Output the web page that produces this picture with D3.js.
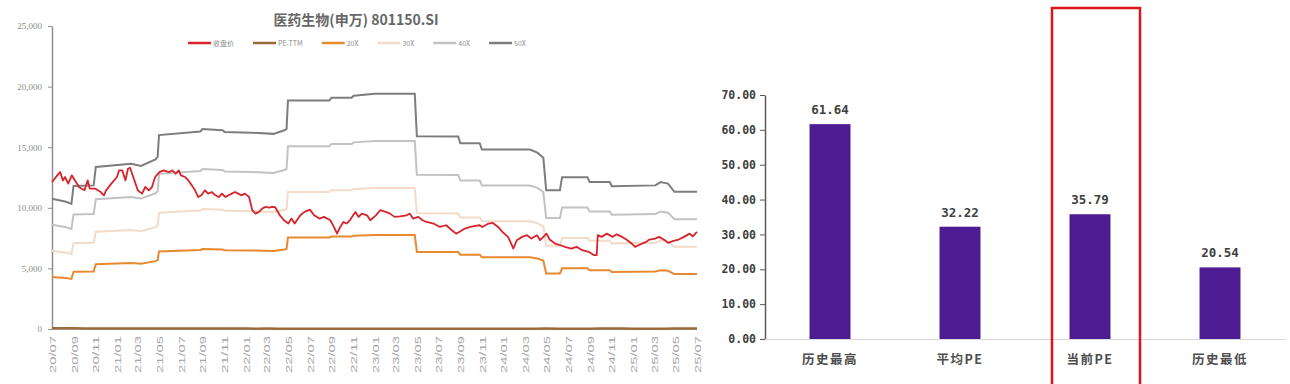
<!DOCTYPE html>
<html>
<head>
<meta charset="utf-8">
<script src="https://cdn.jsdelivr.net/npm/d3@7"></script>
<style>
  body { margin: 0; background: #fff; }
  svg { display: block; }
</style>
</head>
<body>
<svg id="chart" width="1290" height="384"></svg>
<script>
// ---- data ----
const chartTitle = "医药生物(申万) 801150.SI";
const legendNames = ["收盘价", "PE-TTM", "20X", "30X", "40X", "50X"];
const leftYTicks = [0, 5000, 10000, 15000, 20000, 25000];
const xTickLabels = ["20/07", "20/09", "20/11", "21/01", "21/03", "21/05", "21/07", "21/09", "21/11",
    "22/01", "22/03", "22/05", "22/07", "22/09", "22/11", "23/01", "23/03", "23/05", "23/07", "23/09",
    "23/11", "24/01", "24/03", "24/05", "24/07", "24/09", "24/11", "25/01", "25/03", "25/05", "25/07"];

// index close (收盘价)
const closeSeries = [
    ["2020-07-01", 12130], ["2020-07-16", 12675], ["2020-07-24", 12950], ["2020-08-01", 12260],
    ["2020-08-07", 12540], ["2020-08-16", 11990], ["2020-08-26", 12680], ["2020-09-01", 12400],
    ["2020-09-16", 11700], ["2020-10-01", 11450], ["2020-10-10", 12260], ["2020-10-16", 11580],
    ["2020-11-01", 11580], ["2020-11-16", 11300], ["2020-11-25", 11030], ["2020-12-01", 11440],
    ["2020-12-16", 11990], ["2021-01-01", 12540], ["2021-01-07", 13090], ["2021-01-16", 13090],
    ["2021-01-25", 12260], ["2021-02-01", 13220], ["2021-02-07", 13300], ["2021-02-16", 12540],
    ["2021-03-01", 11440], ["2021-03-13", 11170], ["2021-03-22", 11715], ["2021-04-01", 11440],
    ["2021-04-10", 11715], ["2021-04-19", 12540], ["2021-05-01", 12950], ["2021-05-13", 13090],
    ["2021-05-28", 12950], ["2021-06-07", 13090], ["2021-06-16", 12810], ["2021-06-25", 13090],
    ["2021-07-01", 12680], ["2021-07-13", 12540], ["2021-07-22", 12260], ["2021-08-01", 11850],
    ["2021-08-10", 11440], ["2021-08-19", 10890], ["2021-08-28", 11030], ["2021-09-07", 11440],
    ["2021-09-16", 11170], ["2021-09-26", 11300], ["2021-10-07", 11030], ["2021-10-16", 10890],
    ["2021-10-25", 11170], ["2021-11-04", 10890], ["2021-11-13", 11030], ["2021-11-22", 11170],
    ["2021-12-01", 11300], ["2021-12-10", 11170], ["2021-12-19", 11030], ["2021-12-29", 11170],
    ["2022-01-10", 10890], ["2022-01-19", 9800], ["2022-01-28", 9520], ["2022-02-07", 9660],
    ["2022-02-16", 9930], ["2022-02-25", 10070], ["2022-03-08", 10010], ["2022-03-16", 10070],
    ["2022-03-25", 10050], ["2022-04-07", 9380], ["2022-04-19", 8970], ["2022-05-01", 8700],
    ["2022-05-10", 9110], ["2022-05-19", 8700], ["2022-06-04", 9380], ["2022-06-16", 9660],
    ["2022-07-01", 9850], ["2022-07-13", 9380], ["2022-07-28", 9110], ["2022-08-10", 9250],
    ["2022-08-28", 8970], ["2022-09-07", 8420], ["2022-09-16", 7870], ["2022-09-25", 8420],
    ["2022-10-04", 8830], ["2022-10-13", 8700], ["2022-10-22", 8970], ["2022-11-07", 9660],
    ["2022-11-16", 9250], ["2022-11-25", 9520], ["2022-12-10", 9380], ["2022-12-19", 8970],
    ["2023-01-04", 9380], ["2023-01-16", 9800], ["2023-02-01", 9660], ["2023-02-13", 9520],
    ["2023-02-26", 9250], ["2023-03-13", 9300], ["2023-04-01", 9380], ["2023-04-10", 9520],
    ["2023-04-19", 9110], ["2023-05-04", 9250], ["2023-05-16", 8970], ["2023-05-28", 8830],
    ["2023-06-16", 8700], ["2023-07-04", 8420], ["2023-07-22", 8560], ["2023-08-07", 8150],
    ["2023-08-19", 7870], ["2023-08-28", 8010], ["2023-09-13", 8290], ["2023-09-28", 8420],
    ["2023-10-13", 8500], ["2023-10-25", 8560], ["2023-11-01", 8420], ["2023-11-19", 8700],
    ["2023-12-01", 8750], ["2023-12-16", 8420], ["2023-12-28", 8010], ["2024-01-13", 7600],
    ["2024-01-22", 7050], ["2024-01-28", 6640], ["2024-02-07", 7330], ["2024-02-22", 7600],
    ["2024-03-07", 7740], ["2024-03-19", 7460], ["2024-04-04", 7740], ["2024-04-13", 7330],
    ["2024-04-22", 7600], ["2024-05-01", 7870], ["2024-05-10", 7380], ["2024-05-25", 7050],
    ["2024-06-10", 6910], ["2024-06-22", 6780], ["2024-07-10", 6640], ["2024-07-25", 6780],
    ["2024-08-10", 6500], ["2024-08-28", 6370], ["2024-09-13", 6090], ["2024-09-20", 6090],
    ["2024-09-23", 7740], ["2024-10-04", 7600], ["2024-10-19", 7870], ["2024-11-04", 7600],
    ["2024-11-16", 7810], ["2024-12-01", 7600], ["2024-12-13", 7380], ["2024-12-28", 7050],
    ["2025-01-07", 6780], ["2025-01-16", 6910], ["2025-02-07", 7190], ["2025-02-16", 7380],
    ["2025-03-04", 7460], ["2025-03-16", 7600], ["2025-04-01", 7330], ["2025-04-10", 7110],
    ["2025-04-25", 7270], ["2025-05-10", 7380], ["2025-05-25", 7600], ["2025-06-10", 7870],
    ["2025-06-19", 7650], ["2025-07-01", 8010]
];

// PE-TTM, monthly (sits on the floor of this scale)
const peSeries = [
    ["2020-07-01", 57.1], ["2020-08-01", 59.2], ["2020-09-01", 52.8], ["2020-10-01", 48.5],
    ["2020-11-01", 43.3], ["2020-12-01", 42.4], ["2021-01-01", 46.4], ["2021-02-01", 48.6],
    ["2021-03-01", 42.4], ["2021-04-01", 41.6], ["2021-05-01", 40.3], ["2021-06-01", 40.5],
    ["2021-07-01", 39.0], ["2021-08-01", 36.3], ["2021-09-01", 34.6], ["2021-10-01", 33.6],
    ["2021-11-01", 33.5], ["2021-12-01", 34.8], ["2022-01-01", 33.6], ["2022-02-01", 29.9],
    ["2022-03-01", 31.3], ["2022-04-01", 28.4], ["2022-05-01", 23.1], ["2022-06-01", 24.9],
    ["2022-07-01", 26.1], ["2022-08-01", 24.5], ["2022-09-01", 22.1], ["2022-10-01", 23.1],
    ["2022-11-01", 25.1], ["2022-12-01", 24.4], ["2023-01-01", 24.2], ["2023-02-01", 24.9],
    ["2023-03-01", 24.0], ["2023-04-01", 24.2], ["2023-05-01", 29.1], ["2023-06-01", 27.4],
    ["2023-07-01", 26.5], ["2023-08-01", 25.7], ["2023-09-01", 27.0], ["2023-10-01", 28.4],
    ["2023-11-01", 28.4], ["2023-12-01", 29.6], ["2024-01-01", 25.7], ["2024-02-01", 24.8],
    ["2024-03-01", 26.1], ["2024-04-01", 27.4], ["2024-05-01", 34.4], ["2024-06-01", 27.6],
    ["2024-07-01", 26.5], ["2024-08-01", 25.9], ["2024-09-01", 25.1], ["2024-10-01", 31.3],
    ["2024-11-01", 32.3], ["2024-12-01", 32.0], ["2025-01-01", 28.8], ["2025-02-01", 30.3],
    ["2025-03-01", 30.8], ["2025-04-01", 30.5], ["2025-05-01", 32.6], ["2025-06-01", 34.7],
    ["2025-07-01", 35.8]
];

// PE band lines, values at the dates where they change
const bandDates = ["2020-07-01", "2020-08-10", "2020-08-25", "2020-08-31", "2020-10-27", "2020-11-02",
    "2021-02-10", "2021-03-10", "2021-04-20", "2021-04-26", "2021-04-30", "2021-08-25", "2021-08-31",
    "2021-10-27", "2021-11-02", "2022-01-15", "2022-03-20", "2022-04-20", "2022-04-26", "2022-04-30",
    "2022-08-25", "2022-08-31", "2022-10-27", "2022-11-02", "2023-01-01", "2023-04-24", "2023-04-30",
    "2023-08-25", "2023-08-31", "2023-10-25", "2023-10-31", "2024-03-15", "2024-04-05", "2024-04-22",
    "2024-04-30", "2024-06-08", "2024-06-14", "2024-08-25", "2024-08-31", "2024-10-27", "2024-11-02",
    "2025-03-05", "2025-03-20", "2025-04-10", "2025-04-28", "2025-07-01"];
const band20 = [4300, 4200, 4130, 4720, 4740, 5350, 5450, 5380, 5600, 5680, 6400, 6520, 6600,
    6560, 6500, 6480, 6440, 6560, 6600, 7540, 7540, 7630, 7630, 7700, 7760, 7760, 6360,
    6350, 6130, 6130, 5920, 5920, 5820, 5650, 4580, 4580, 5010, 5010, 4850, 4850, 4710,
    4740, 4850, 4800, 4530, 4530];
const band30 = [6450, 6300, 6195, 7080, 7110, 8025, 8175, 8070, 8400, 8520, 9600, 9780, 9900,
    9840, 9750, 9720, 9660, 9840, 9900, 11310, 11310, 11445, 11445, 11550, 11640, 11640, 9540,
    9525, 9195, 9195, 8880, 8880, 8730, 8475, 6870, 6870, 7515, 7515, 7275, 7275, 7065,
    7110, 7275, 7200, 6795, 6795];
const band40 = [8600, 8400, 8260, 9440, 9480, 10700, 10900, 10760, 11200, 11360, 12800, 13040, 13200,
    13120, 13000, 12960, 12880, 13120, 13200, 15080, 15080, 15260, 15260, 15400, 15520, 15520, 12720,
    12700, 12260, 12260, 11840, 11840, 11640, 11300, 9160, 9160, 10020, 10020, 9700, 9700, 9420,
    9480, 9700, 9600, 9060, 9060];
const band50 = [10750, 10500, 10325, 11800, 11850, 13375, 13625, 13450, 14000, 14200, 16000, 16300, 16500,
    16400, 16250, 16200, 16100, 16400, 16500, 18850, 18850, 19075, 19075, 19250, 19400, 19400, 15900,
    15875, 15325, 15325, 14800, 14800, 14550, 14125, 11450, 11450, 12525, 12525, 12125, 12125, 11775,
    11850, 12125, 12000, 11325, 11325];

// right panel
const barCategories = ["历史最高", "平均PE", "当前PE", "历史最低"];
const barValues = [61.64, 32.22, 35.79, 20.54];
const rightYTicks = [0, 10, 20, 30, 40, 50, 60, 70];

// ---- drawing ----
const svg = d3.select("#chart");
const parse = d3.timeParse("%Y-%m-%d");
const parseTick = d3.timeParse("%y/%m");

const colors = {
    close: "#d8232a", pe: "#9a6a3b", b20: "#e8892f",
    b30: "#f2dbc8", b40: "#c2c2c2", b50: "#7d7d7d"
};
const legendColors = [colors.close, colors.pe, colors.b20, colors.b30, colors.b40, colors.b50];

const x = d3.scaleTime()
    .domain([parse("2020-07-01"), parse("2025-07-01")])
    .range([52, 697]);
const y = d3.scaleLinear()
    .domain([0, 25000])
    .range([329, 26]);

// title
svg.append("text")
    .attr("x", 356)
    .attr("y", 25)
    .attr("text-anchor", "middle")
    .attr("font-family", "'Noto Sans CJK SC', sans-serif")
    .attr("font-size", "14px")
    .attr("font-weight", "bold")
    .attr("fill", "#666")
    .text(chartTitle);

// legend, laid out left to right from the text widths
let legendX = 188;
legendNames.forEach((name, i) => {
    svg.append("line")
        .attr("x1", legendX).attr("x2", legendX + 23)
        .attr("y1", 43).attr("y2", 43)
        .attr("stroke", legendColors[i])
        .attr("stroke-width", 2.5);
    const t = svg.append("text")
        .attr("x", legendX + 25)
        .attr("y", 45.5)
        .attr("font-family", "'Noto Sans CJK SC', sans-serif")
        .attr("font-size", "7px")
        .attr("fill", "#8c8c8c")
        .text(name);
    legendX += 25 + t.node().getComputedTextLength() + 19;
});

// left y axis
const yAxis = svg.append("g")
    .attr("transform", "translate(52,0)")
    .call(d3.axisLeft(y).tickValues(leftYTicks).tickSize(4).tickSizeOuter(0).tickPadding(6)
        .tickFormat(d3.format(",")));
yAxis.select(".domain").attr("stroke", "#8f8f8f").attr("stroke-width", 1.5);
yAxis.selectAll(".tick line").attr("stroke", "#8f8f8f");
yAxis.selectAll("text")
    .attr("font-family", "'Liberation Serif', serif")
    .attr("font-size", "9px")
    .attr("fill", "#8c8c8c");

// bottom axis with rotated month labels
const xAxis = svg.append("g")
    .attr("transform", "translate(0,329)")
    .call(d3.axisBottom(x).tickValues(xTickLabels.map(parseTick)).tickSize(0)
        .tickFormat(d3.timeFormat("%y/%m")));
xAxis.select(".domain").attr("stroke", "#bdbdbd");
xAxis.selectAll("text")
    .attr("transform", "rotate(-90)")
    .attr("text-anchor", "end")
    .attr("x", -7)
    .attr("y", 0)
    .attr("dy", "0.35em")
    .attr("font-family", "'Liberation Sans', sans-serif")
    .attr("font-size", "9px")
    .attr("fill", "#a6a6a6")
    .attr("textLength", 37)
    .attr("lengthAdjust", "spacingAndGlyphs");

const line = d3.line()
    .x(d => x(d[0]))
    .y(d => y(d[1]));

// bands first, then PE, then close on top
const bands = [[band50, colors.b50], [band40, colors.b40], [band30, colors.b30], [band20, colors.b20]];
bands.forEach(([values, color]) => {
    svg.append("path")
        .datum(bandDates.map((d, i) => [parse(d), values[i]]))
        .attr("fill", "none")
        .attr("stroke", color)
        .attr("stroke-width", 2)
        .attr("d", line);
});

svg.append("path")
    .datum(peSeries.map(d => [parse(d[0]), d[1]]))
    .attr("fill", "none")
    .attr("stroke", colors.pe)
    .attr("stroke-width", 2.5)
    .attr("d", line);

svg.append("path")
    .datum(closeSeries.map(d => [parse(d[0]), d[1]]))
    .attr("fill", "none")
    .attr("stroke", colors.close)
    .attr("stroke-width", 1.8)
    .attr("stroke-linejoin", "round")
    .attr("d", line);

// ---- right bar chart ----
const xR = d3.scaleBand()
    .domain(barCategories)
    .range([765, 1285])
    .paddingInner(0.685)
    .paddingOuter(0.3425);
const yR = d3.scaleLinear()
    .domain([0, 70])
    .range([339, 95]);

const yAxisR = svg.append("g")
    .attr("transform", "translate(765,0)")
    .call(d3.axisLeft(yR).tickValues(rightYTicks).tickSize(5).tickSizeOuter(0).tickPadding(4)
        .tickFormat(d3.format(".2f")));
yAxisR.select(".domain").attr("stroke", "#595959").attr("stroke-width", 1.5);
yAxisR.selectAll(".tick line").attr("stroke", "#595959");
yAxisR.selectAll("text")
    .attr("font-family", "'DejaVu Sans Mono', monospace")
    .attr("font-weight", "bold")
    .attr("font-size", "11.5px")
    .attr("fill", "#404040");

const xAxisR = svg.append("g")
    .attr("transform", "translate(0,339)")
    .call(d3.axisBottom(xR).tickSize(0).tickPadding(16));
xAxisR.select(".domain").attr("stroke", "#d9d9d9");
xAxisR.selectAll("text")
    .attr("font-family", "'Noto Sans CJK SC', sans-serif")
    .attr("font-weight", "bold")
    .attr("font-size", "12.5px")
    .attr("letter-spacing", "1.5px")
    .attr("fill", "#4d4d4d");

svg.selectAll(".bar")
    .data(barCategories)
    .enter()
    .append("rect")
    .attr("class", "bar")
    .attr("x", d => xR(d))
    .attr("y", (d, i) => yR(barValues[i]))
    .attr("width", xR.bandwidth())
    .attr("height", (d, i) => yR(0) - yR(barValues[i]))
    .attr("fill", "#4e1c92");

svg.selectAll(".bar-label")
    .data(barCategories)
    .enter()
    .append("text")
    .attr("class", "bar-label")
    .attr("x", d => xR(d) + xR.bandwidth() / 2)
    .attr("y", (d, i) => yR(barValues[i]) - 10)
    .attr("text-anchor", "middle")
    .attr("font-family", "'DejaVu Sans Mono', monospace")
    .attr("font-weight", "bold")
    .attr("font-size", "12.5px")
    .attr("fill", "#404040")
    .text((d, i) => barValues[i].toFixed(2));

// red frame around the current PE column (drawn a little right of the bar, as in the source)
const frameX = xR("当前PE") + xR.bandwidth() / 2;
svg.append("rect")
    .attr("x", frameX - 38)
    .attr("y", 8)
    .attr("width", 88)
    .attr("height", 382)
    .attr("fill", "none")
    .attr("stroke", "#e0141c")
    .attr("stroke-width", 2.5);
</script>
</body>
</html>
